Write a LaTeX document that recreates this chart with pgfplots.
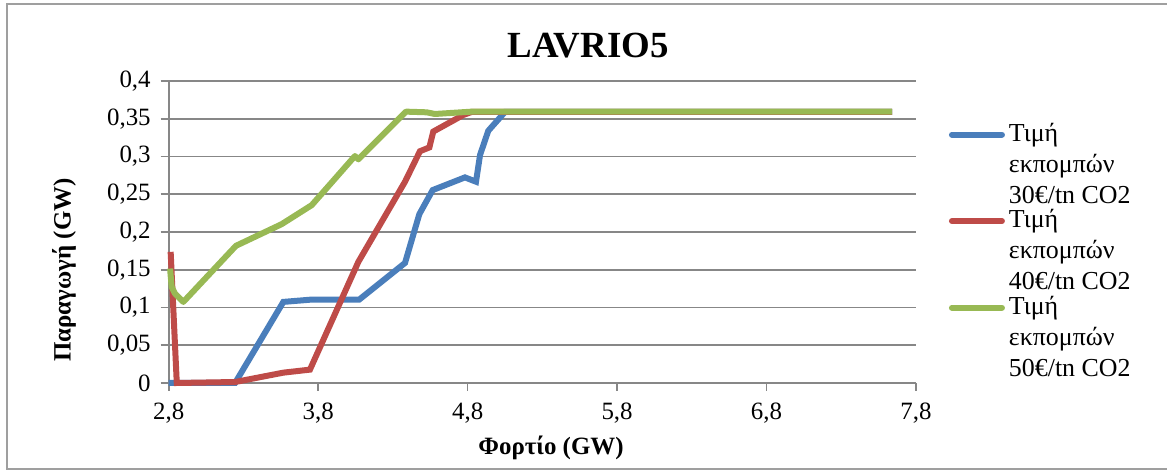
\documentclass[border=0pt]{standalone}
\usepackage{pgfplots}
\pgfplotsset{compat=1.18}
\usepackage{fontspec}
\setmainfont{Liberation Serif}
\definecolor{cblue}{HTML}{4A7EBB}
\definecolor{cred}{HTML}{BE4B48}
\definecolor{cgreen}{HTML}{98B954}
\definecolor{cgrid}{HTML}{878787}
\begin{document}
\begin{tikzpicture}[x=0.5bp,y=0.5bp]
\useasboundingbox (0,0) rectangle (1167,470);
\draw[cgrid!80,line width=1bp] (7,1) rectangle (1170,466);
\node[font=\fontsize{18.5}{22}\selectfont\bfseries] at (588,424) {LAVRIO5};
\node[font=\fontsize{12.5}{15}\selectfont\bfseries,rotate=90] at (64,200) {Παραγωγή (GW)};
\node[font=\fontsize{12.5}{15}\selectfont\bfseries] at (551,22) {Φορτίο (GW)};
\begin{axis}[
  at={(84.35bp,43.5bp)}, anchor=origin,
  scale only axis, width=373.65bp, height=151bp,
  xmin=2.8, xmax=7.8, ymin=0, ymax=0.4,
  axis x line*=bottom, axis y line*=left,
  axis line style={cgrid,line width=0.8bp,-},
  xtick={2.8,3.8,4.8,5.8,6.8,7.8},
  xticklabels={{2,8},{3,8},{4,8},{5,8},{6,8},{7,8}},
  ytick={0,0.05,0.1,0.15,0.2,0.25,0.3,0.35,0.4},
  yticklabels={0,{0,05},{0,1},{0,15},{0,2},{0,25},{0,3},{0,35},{0,4}},
  tick align=outside, major tick length=4bp,
  tick style={cgrid,line width=0.8bp},
  ymajorgrids, grid style={cgrid,line width=0.8bp},
  ticklabel style={font=\fontsize{12.5}{15}\selectfont},
  xticklabel style={yshift=-2.5bp},
  yticklabel style={xshift=-1.5bp},
  clip=false,
  legend style={at={(1.0355,0.875)},anchor=north west,draw=none,fill=none,
    font=\fontsize{13}{15.5}\selectfont,
    nodes={align=left,inner sep=0pt,outer sep=0pt},
    row sep=1.75bp, column sep=2bp},
  legend cell align=left,
  legend image code/.code={\draw[#1,line width=3bp,line cap=round] (0bp,15bp) -- (25bp,15bp);},
]
\addplot[cblue,line width=3bp] coordinates {
(2.80,0) (3.244,0) (3.567,0.1074) (3.757,0.1105) (4.075,0.1105) (4.381,0.159)
(4.477,0.2237) (4.566,0.2555) (4.782,0.2723) (4.856,0.2666) (4.883,0.302)
(4.938,0.334) (5.05,0.359) (7.64,0.359)};
\addlegendentry{Τιμή\\εκπομπών\\30€/tn CO2}
\addplot[cred,line width=3bp] coordinates {
(2.813,0.1737) (2.854,0) (3.244,0.0013) (3.567,0.0137) (3.745,0.0177)
(4.069,0.1605) (4.381,0.2666) (4.481,0.307) (4.544,0.312) (4.570,0.333)
(4.771,0.355) (4.827,0.359) (7.64,0.359)};
\addlegendentry{Τιμή\\εκπομπών\\40€/tn CO2}
\addplot[cgreen,line width=3bp,line join=round] coordinates {
(2.809,0.1516) (2.82,0.127) (2.842,0.1185) (2.898,0.1074) (3.250,0.1817)
(3.556,0.2104) (3.757,0.2356) (4.046,0.3006) (4.069,0.2962) (4.388,0.3594)
(4.526,0.3585) (4.581,0.3563) (4.827,0.3594) (7.64,0.3594)};
\addlegendentry{Τιμή\\εκπομπών\\50€/tn CO2}
\end{axis}
\end{tikzpicture}
\end{document}
